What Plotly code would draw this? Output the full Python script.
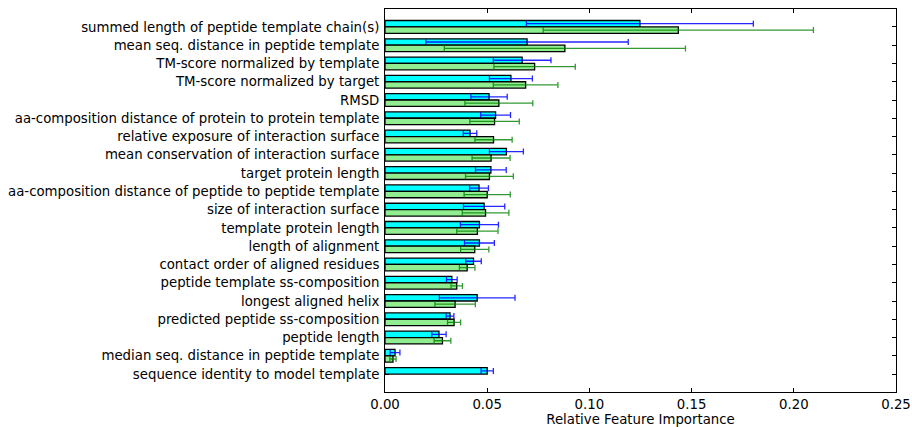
import plotly.graph_objects as go

features = [
    "summed length of peptide template chain(s)",
    "mean seq. distance in peptide template",
    "TM-score normalized by template",
    "TM-score normalized by target",
    "RMSD",
    "aa-composition distance of protein to protein template",
    "relative exposure of interaction surface",
    "mean conservation of interaction surface",
    "target protein length",
    "aa-composition distance of peptide to peptide template",
    "size of interaction surface",
    "template protein length",
    "length of alignment",
    "contact order of aligned residues",
    "peptide template ss-composition",
    "longest aligned helix",
    "predicted peptide ss-composition",
    "peptide length",
    "median seq. distance in peptide template",
    "sequence identity to model template",
]

cyan_values = [0.1247, 0.0695, 0.0671, 0.0616, 0.0509, 0.0541, 0.0416, 0.0594, 0.0518, 0.0460,
               0.0485, 0.0462, 0.0462, 0.0433, 0.0327, 0.0451, 0.0318, 0.0264, 0.0049, 0.0500]
cyan_errors = [0.0555, 0.0495, 0.0141, 0.0105, 0.0089, 0.0073, 0.0033, 0.0083, 0.0075, 0.0046,
               0.0101, 0.0093, 0.0073, 0.0038, 0.0026, 0.0185, 0.0019, 0.0035, 0.0024, 0.0030]

green_values = [0.1435, 0.0880, 0.0732, 0.0688, 0.0557, 0.0536, 0.0531, 0.0519, 0.0511, 0.0500,
                0.0492, 0.0452, 0.0439, 0.0402, 0.0351, 0.0343, 0.0338, 0.0281, 0.0039, None]
green_errors = [0.0661, 0.0590, 0.0199, 0.0158, 0.0166, 0.0121, 0.0091, 0.0093, 0.0117, 0.0113,
                0.0114, 0.0101, 0.0069, 0.0038, 0.0028, 0.0099, 0.0032, 0.0041, 0.0015, 0.0]

x_ticks = [0.0, 0.05, 0.10, 0.15, 0.20, 0.25]
x_tick_labels = ["0.00", "0.05", "0.10", "0.15", "0.20", "0.25"]

fig = go.Figure()
fig.add_trace(go.Bar(
    y=features, x=cyan_values, orientation="h",
    marker=dict(color="#00FFFF", line=dict(color="black", width=1.3)),
    error_x=dict(type="data", array=cyan_errors, color="rgba(0,0,255,0.85)", thickness=1.3, width=3),
    showlegend=False,
))
fig.add_trace(go.Bar(
    y=features, x=green_values, orientation="h",
    marker=dict(color="#90EE90", line=dict(color="black", width=1.3)),
    error_x=dict(type="data", array=green_errors, color="rgba(0,128,0,0.8)", thickness=1.3, width=3),
    showlegend=False,
))

font = dict(family="DejaVu Sans", size=13.3, color="black")
fig.update_layout(
    width=912, height=427,
    margin=dict(l=385, r=16, t=9, b=35),
    barmode="group", bargap=0.3, bargroupgap=0,
    plot_bgcolor="white", paper_bgcolor="white",
    font=font,
    xaxis=dict(
        range=[0, 0.25], tickvals=x_ticks, ticktext=x_tick_labels,
        showgrid=False, zeroline=False, showline=True, linecolor="black", linewidth=1,
        mirror="ticks", ticks="inside", ticklen=4, tickcolor="black",
        title=dict(text="Relative Feature Importance", font=font, standoff=3),
        tickfont=font, automargin=False,
    ),
    yaxis=dict(
        type="category", categoryorder="array", categoryarray=features,
        range=[19.98, -0.98],
        showgrid=False, zeroline=False, showline=True, linecolor="black", linewidth=1,
        mirror="ticks", ticks="inside", ticklen=4, tickcolor="black",
        layer="below traces", tickfont=font, ticklabelstandoff=2, automargin=False,
    ),
)

fig.write_html("out.html", config={"displayModeBar": False},
               post_script="document.body.style.margin='0';")
